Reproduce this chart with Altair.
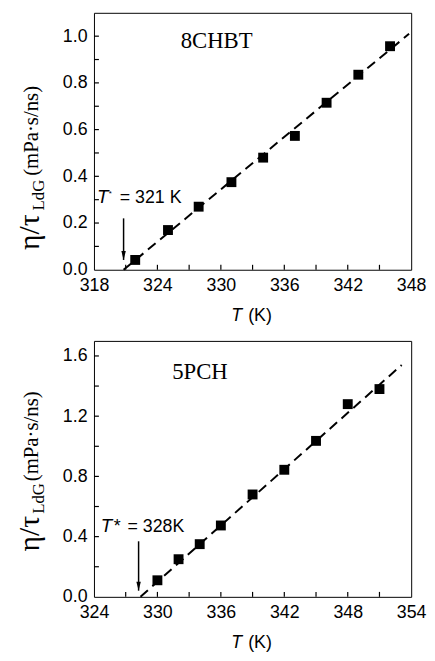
import altair as alt
import pandas as pd

SANS = "Liberation Sans"
SERIF = "Liberation Serif"

# ---------------- data: 8CHBT (top panel) ----------------
chbt_T = [321.9, 325.0, 327.9, 331.0, 334.0, 337.0, 340.0, 343.0, 346.0]
chbt_v = [0.042, 0.170, 0.270, 0.375, 0.480, 0.573, 0.715, 0.835, 0.957]
chbt_fit_T = [320.8, 347.8]
chbt_fit_v = [0.0, 1.01]
chbt_x_domain = [318, 348]
chbt_y_domain = [0.0, 1.1]
chbt_x_labels = [318, 324, 330, 336, 342, 348]
chbt_x_ticks = [321, 324, 327, 330, 333, 336, 339, 342, 345]
chbt_y_labels = [0.0, 0.2, 0.4, 0.6, 0.8, 1.0]
chbt_y_ticks = [0.1, 0.2, 0.3, 0.4, 0.5, 0.6, 0.7, 0.8, 0.9, 1.0]
chbt_name = "8CHBT"
chbt_name_pos = [326.2, 0.949]
chbt_star_text = "= 321 K"
chbt_ann_T = [318.28, 319.4, 320.44]   # T, *, rest
chbt_ann_v = [0.284, 0.3136, 0.284]
chbt_star_size = 8
chbt_arrow_T = 320.8
chbt_arrow_v = [0.22, 0.042]

# ---------------- data: 5PCH (bottom panel) ----------------
pch_T = [330.0, 332.0, 334.0, 336.0, 339.0, 342.0, 345.0, 348.0, 351.0]
pch_v = [0.11, 0.25, 0.35, 0.474, 0.68, 0.844, 1.036, 1.28, 1.38]
pch_fit_T = [328.4, 353.1]
pch_fit_v = [0.0, 1.54]
pch_x_domain = [324, 354]
pch_y_domain = [0.0, 1.7]
pch_x_labels = [324, 330, 336, 342, 348, 354]
pch_x_ticks = [327, 330, 333, 336, 339, 342, 345, 348, 351]
pch_y_labels = [0.0, 0.4, 0.8, 1.2, 1.6]
pch_y_ticks = [0.2, 0.4, 0.6, 0.8, 1.0, 1.2, 1.4, 1.6]
pch_name = "5PCH"
pch_name_pos = [331.4, 1.447]
pch_star_text = "= 328K"
pch_ann_T = [324.65, 325.86, 327.17]
pch_ann_v = [0.433, 0.433, 0.433]
pch_star_size = 18
pch_arrow_T = 328.22
pch_arrow_v = [0.369, 0.041]

ARROW_HEAD = "M -0.5 -2 L 0.5 -2 L 0 0 Z"
TICK_LEN = 5  # pixels, inward ticks


def one(df_dict):
    return pd.DataFrame(df_dict)


def panel(T, v, fitT, fitv, xdom, ydom, xlab, xtk, ylab, ytk, W, H,
          name, name_pos, star_text, annT, annV, star_size, arrT, arrV, ytitle_y):
    xs = alt.Scale(domain=xdom, nice=False, zero=False)
    ys = alt.Scale(domain=ydom, nice=False, zero=False)
    pts = pd.DataFrame({"T": T, "v": v})
    fit = pd.DataFrame({"T": fitT, "v": fitv})

    main_x = alt.Axis(orient="bottom", values=xlab, ticks=False, domain=False, grid=False,
                      labelFont=SANS, labelFontSize=18, labelColor="black", labelPadding=7,
                      labelFlush=False, labelOverlap=False, title=None)
    main_y = alt.Axis(orient="left", values=ylab, format=".1f", ticks=False, domain=False,
                      grid=False, labelFont=SANS, labelFontSize=18, labelColor="black",
                      labelPadding=7, labelFlush=False, labelOverlap=False, title=None)

    def X(f):
        return alt.X(f, scale=xs, axis=main_x)

    def Y(f):
        return alt.Y(f, scale=ys, axis=main_y)

    line = alt.Chart(fit).mark_line(color="black", strokeDash=[10, 6], strokeWidth=2).encode(
        x=X("T:Q"), y=Y("v:Q"))
    dots = alt.Chart(pts).mark_point(shape="square", filled=True, size=100, color="black",
                                     opacity=1).encode(x=X("T:Q"), y=Y("v:Q"))

    # inward tick marks along the bottom and left frame (tick length in data units)
    dy = (ydom[1] - ydom[0]) * TICK_LEN / H
    dx = (xdom[1] - xdom[0]) * TICK_LEN / W
    xt_df = pd.DataFrame({"T": xtk, "v0": [ydom[0]] * len(xtk),
                          "v1": [ydom[0] + dy] * len(xtk)})
    yt_df = pd.DataFrame({"T0": [xdom[0]] * len(ytk), "T1": [xdom[0] + dx] * len(ytk),
                          "v": ytk})
    xticks = alt.Chart(xt_df).mark_rule(color="black", strokeWidth=1.2).encode(
        x=X("T:Q"), y=Y("v0:Q"), y2="v1:Q")
    yticks = alt.Chart(yt_df).mark_rule(color="black", strokeWidth=1.2).encode(
        x=X("T0:Q"), x2="T1:Q", y=Y("v:Q"))

    arr = pd.DataFrame({"T": [arrT], "v0": [arrV[0]], "v1": [arrV[1]]})
    shaft = alt.Chart(arr).mark_rule(color="black", strokeWidth=1.5).encode(
        x=X("T:Q"), y=Y("v0:Q"), y2="v1:Q")
    head = alt.Chart(arr).mark_point(shape=ARROW_HEAD, filled=True, size=81, color="black",
                                     opacity=1).encode(x=X("T:Q"), y=Y("v1:Q"))

    def dtext(text, tx, vy, **kw):
        d = pd.DataFrame({"T": [tx], "v": [vy]})
        return alt.Chart(d).mark_text(text=text, align="left", baseline="alphabetic",
                                      color="black", **kw).encode(x=X("T:Q"), y=Y("v:Q"))

    name_t = dtext(name, name_pos[0], name_pos[1], font=SERIF, fontSize=23)
    ann1 = dtext("T", annT[0], annV[0], font=SANS, fontSize=19, fontStyle="italic")
    ann2 = dtext("*", annT[1], annV[1], font=SANS, fontSize=star_size)
    ann3 = dtext(star_text, annT[2], annV[2], font=SANS, fontSize=18)

    def ptext(text, px, py, **kw):
        return alt.Chart(one({"k": [0]})).mark_text(text=text, color="black", **kw).encode(
            x=alt.value(px), y=alt.value(py))

    xt1 = ptext("T", 139, H + 52, font=SANS, fontSize=18, fontStyle="italic",
                align="left", baseline="alphabetic")
    xt2 = ptext("(K)", 156, H + 52, font=SANS, fontSize=18,
                align="left", baseline="alphabetic")

    yt1 = ptext("η/τ", -56, ytitle_y[0], font=SERIF, fontSize=30, angle=270,
                align="left", baseline="alphabetic")
    yt2 = ptext("LdG", -51, ytitle_y[1], font=SERIF, fontSize=17, angle=270,
                align="left", baseline="alphabetic")
    yt3 = ptext("(mPa·s/ns)", -57, ytitle_y[2], font=SERIF, fontSize=21, angle=270,
                align="left", baseline="alphabetic")

    return alt.layer(line, dots, shaft, head, name_t, ann1, ann2, ann3,
                     xt1, xt2, yt1, yt2, yt3, xticks, yticks).properties(width=W, height=H)


top = panel(chbt_T, chbt_v, chbt_fit_T, chbt_fit_v, chbt_x_domain, chbt_y_domain,
            chbt_x_labels, chbt_x_ticks, chbt_y_labels, chbt_y_ticks, 321, 260,
            chbt_name, chbt_name_pos, chbt_star_text, chbt_ann_T, chbt_ann_v,
            chbt_star_size, chbt_arrow_T, chbt_arrow_v, [240, 200, 165])
bottom = panel(pch_T, pch_v, pch_fit_T, pch_fit_v, pch_x_domain, pch_y_domain,
               pch_x_labels, pch_x_ticks, pch_y_labels, pch_y_ticks, 321, 259,
               pch_name, pch_name_pos, pch_star_text, pch_ann_T, pch_ann_v,
               pch_star_size, pch_arrow_T, pch_arrow_v, [213, 175, 142])

chart = alt.vconcat(top, bottom, spacing=14).configure_view(
    stroke="black", strokeWidth=1
).properties(padding={"left": 6, "top": 0, "right": 0, "bottom": 0},
             background="white")

chart.save("out.html", embed_options={"renderer": "svg", "actions": False})
